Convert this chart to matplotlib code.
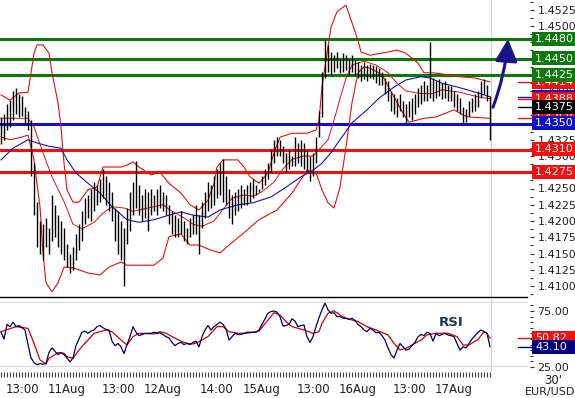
import numpy as np
import matplotlib
matplotlib.use('Agg')
import matplotlib.pyplot as plt
from matplotlib.patches import Rectangle
from matplotlib.transforms import blended_transform_factory
from matplotlib.ticker import MultipleLocator, FixedLocator, FormatStrFormatter

# ── DATA (30' bars, EUR/USD) ──────────────────────────────────────────────────
highs = [
    1.4360, 1.4365, 1.4380, 1.4386, 1.4400, 1.4405, 1.4396, 1.4392, 1.4375, 1.4370,
    1.4355, 1.4290, 1.4230, 1.4200, 1.4195, 1.4205, 1.4190, 1.4240, 1.4225, 1.4210,
    1.4200, 1.4190, 1.4165, 1.4150, 1.4160, 1.4180, 1.4195, 1.4215, 1.4235, 1.4240,
    1.4250, 1.4260, 1.4255, 1.4265, 1.4280, 1.4270, 1.4260, 1.4245, 1.4220, 1.4215,
    1.4200, 1.4190, 1.4220, 1.4245, 1.4260, 1.4292, 1.4255, 1.4240, 1.4250, 1.4245,
    1.4250, 1.4240, 1.4250, 1.4255, 1.4245, 1.4240, 1.4225, 1.4215, 1.4210, 1.4205,
    1.4215, 1.4200, 1.4190, 1.4205, 1.4210, 1.4225, 1.4210, 1.4230, 1.4245, 1.4260,
    1.4255, 1.4270, 1.4280, 1.4290, 1.4295, 1.4270, 1.4250, 1.4240, 1.4245, 1.4250,
    1.4255, 1.4250, 1.4255, 1.4260, 1.4265, 1.4255, 1.4250, 1.4270, 1.4280, 1.4290,
    1.4310, 1.4325, 1.4330, 1.4325, 1.4315, 1.4305, 1.4310, 1.4300, 1.4330, 1.4320,
    1.4325, 1.4320, 1.4310, 1.4300, 1.4305, 1.4330, 1.4370, 1.4430, 1.4478, 1.4470,
    1.4460, 1.4455, 1.4460, 1.4450, 1.4458, 1.4455, 1.4450, 1.4455, 1.4448, 1.4445,
    1.4440, 1.4445, 1.4440, 1.4442, 1.4440, 1.4438, 1.4435, 1.4430, 1.4420, 1.4415,
    1.4400, 1.4395, 1.4390, 1.4395, 1.4385, 1.4380, 1.4385, 1.4390, 1.4395, 1.4405,
    1.4410, 1.4415, 1.4410, 1.4475, 1.4420, 1.4415, 1.4418, 1.4412, 1.4415, 1.4410,
    1.4408, 1.4400, 1.4395, 1.4390, 1.4375, 1.4372, 1.4385, 1.4390, 1.4395, 1.4400,
    1.4415, 1.4418, 1.4410, 1.4392,
]
lows = [
    1.4318, 1.4325, 1.4340, 1.4345, 1.4355, 1.4365, 1.4360, 1.4362, 1.4350, 1.4340,
    1.4270, 1.4210, 1.4160, 1.4150, 1.4140, 1.4160, 1.4150, 1.4170, 1.4175, 1.4160,
    1.4150, 1.4140, 1.4130, 1.4120, 1.4125, 1.4140, 1.4155, 1.4170, 1.4195, 1.4205,
    1.4200, 1.4215, 1.4225, 1.4230, 1.4235, 1.4225, 1.4215, 1.4200, 1.4170, 1.4150,
    1.4140, 1.4100, 1.4165, 1.4185, 1.4210, 1.4220, 1.4210, 1.4200, 1.4205, 1.4185,
    1.4210, 1.4215, 1.4210, 1.4220, 1.4215, 1.4210, 1.4195, 1.4180, 1.4175, 1.4175,
    1.4180, 1.4170, 1.4165, 1.4175, 1.4180, 1.4180, 1.4150, 1.4190, 1.4205, 1.4215,
    1.4220, 1.4225, 1.4235, 1.4240, 1.4230, 1.4225, 1.4205, 1.4195, 1.4210, 1.4215,
    1.4220, 1.4225, 1.4225, 1.4230, 1.4235, 1.4240, 1.4245, 1.4250, 1.4255, 1.4265,
    1.4275, 1.4290, 1.4300, 1.4300, 1.4290, 1.4275, 1.4280, 1.4285, 1.4285, 1.4290,
    1.4285, 1.4280, 1.4275, 1.4262, 1.4270, 1.4290, 1.4330, 1.4360, 1.4420, 1.4430,
    1.4425, 1.4430, 1.4435, 1.4428, 1.4430, 1.4432, 1.4425, 1.4430, 1.4425, 1.4420,
    1.4415, 1.4418, 1.4415, 1.4420, 1.4418, 1.4412, 1.4410, 1.4410, 1.4395, 1.4385,
    1.4370, 1.4365, 1.4360, 1.4370, 1.4360, 1.4350, 1.4360, 1.4355, 1.4365, 1.4375,
    1.4380, 1.4385, 1.4385, 1.4390, 1.4385, 1.4390, 1.4392, 1.4388, 1.4390, 1.4385,
    1.4385, 1.4375, 1.4370, 1.4365, 1.4350, 1.4352, 1.4362, 1.4368, 1.4370, 1.4375,
    1.4390, 1.4395, 1.4385, 1.4325,
]
last_close = 1.4375

# Bollinger bands (20) and moving average, read at bar positions
bb_up_idx = [0, 3, 6, 9, 10, 11, 12, 14, 16, 17, 19, 20, 21, 22, 24, 26, 29, 32, 34, 36,
             40, 42, 44, 46, 50, 53, 56, 60, 63, 66, 69, 71, 72, 74, 79, 81, 83, 86, 89,
             91, 93, 97, 102, 105, 106, 107, 109, 110, 112, 115, 117, 119, 120, 123, 129,
             132, 135, 139, 141, 144, 149, 153, 158, 163]
bb_up = [1.4394, 1.4386, 1.4397, 1.4398, 1.4428, 1.4458, 1.4471, 1.4471, 1.4458, 1.4428,
         1.4382, 1.4345, 1.4289, 1.4248, 1.4229, 1.4229, 1.4248, 1.4252, 1.4283, 1.4283,
         1.4283, 1.4286, 1.4291, 1.4283, 1.4271, 1.4275, 1.4258, 1.4243, 1.4225, 1.4217,
         1.4232, 1.4258, 1.4283, 1.4294, 1.4294, 1.4283, 1.4268, 1.4258, 1.4274, 1.4305,
         1.4329, 1.4335, 1.4335, 1.4340, 1.4355, 1.4406, 1.4468, 1.4498, 1.4522, 1.4532,
         1.4505, 1.4478, 1.4460, 1.4455, 1.4460, 1.4463, 1.4458, 1.4443, 1.4428, 1.4428,
         1.4425, 1.4422, 1.4420, 1.4414]

bb_mid_idx = [0, 9, 11, 14, 17, 21, 24, 27, 31, 34, 37, 41, 44, 47, 51, 54, 57, 61, 64,
              67, 71, 74, 77, 81, 84, 87, 91, 94, 97, 101, 104, 106, 109, 111, 113, 115,
              117, 121, 125, 129, 132, 135, 140, 144, 147, 153, 159, 163]
bb_mid = [1.4358, 1.4358, 1.4345, 1.4305, 1.4268, 1.4230, 1.4195, 1.4188, 1.4198, 1.4212,
          1.4222, 1.4220, 1.4215, 1.4218, 1.4222, 1.4225, 1.4215, 1.4205, 1.4195, 1.4192,
          1.4200, 1.4218, 1.4235, 1.4240, 1.4238, 1.4245, 1.4260, 1.4280, 1.4295, 1.4300,
          1.4300, 1.4310, 1.4325, 1.4355, 1.4388, 1.4420, 1.4440, 1.4446, 1.4440, 1.4428,
          1.4412, 1.4400, 1.4396, 1.4396, 1.4402, 1.4398, 1.4391, 1.4388]

bb_low_idx = [0, 3, 6, 9, 11, 13, 14, 15, 17, 19, 21, 24, 29, 33, 36, 40, 42, 51, 54, 56,
              60, 63, 66, 70, 73, 76, 81, 86, 92, 97, 102, 105, 107, 109, 111, 113, 115,
              117, 119, 121, 123, 127, 131, 134, 136, 141, 145, 151, 154, 156, 163]
bb_low = [1.4329, 1.4325, 1.4328, 1.4332, 1.4294, 1.4222, 1.4151, 1.4105, 1.4091, 1.4105,
          1.4129, 1.4128, 1.4120, 1.4117, 1.4129, 1.4137, 1.4132, 1.4132, 1.4143, 1.4176,
          1.4180, 1.4163, 1.4163, 1.4155, 1.4151, 1.4163, 1.4182, 1.4202, 1.4217, 1.4243,
          1.4278, 1.4274, 1.4248, 1.4228, 1.4220, 1.4252, 1.4314, 1.4382, 1.4428, 1.4437,
          1.4435, 1.4425, 1.4391, 1.4366, 1.4352, 1.4358, 1.4360, 1.4371, 1.4363, 1.4360,
          1.4358]

ma_idx = [0, 4, 9, 12, 16, 20, 22, 25, 29, 33, 37, 42, 46, 51, 56, 60, 64, 69, 73, 79,
          84, 90, 95, 100, 104, 107, 110, 113, 117, 122, 126, 131, 135, 140, 143, 147,
          153, 159, 163]
ma = [1.4294, 1.4312, 1.4325, 1.4320, 1.4315, 1.4312, 1.4294, 1.4274, 1.4258, 1.4243,
      1.4222, 1.4202, 1.4198, 1.4202, 1.4209, 1.4214, 1.4209, 1.4206, 1.4217, 1.4225,
      1.4228, 1.4237, 1.4252, 1.4268, 1.4278, 1.4289, 1.4305, 1.4325, 1.4351, 1.4371,
      1.4389, 1.4406, 1.4417, 1.4422, 1.4420, 1.4412, 1.4405, 1.4397, 1.4391]

# RSI, one value per bar, and its signal line
rsi = [
    56, 50, 63, 61, 65, 61, 62, 60, 58, 45, 33, 29, 27, 28, 27.5, 28, 38, 42, 39, 36,
    38, 36, 33, 29.5, 33, 44, 50, 56, 57, 55, 57, 58, 61, 62, 60, 58.5, 58, 48, 44, 46,
    43, 37, 45, 52, 61, 56, 53, 54, 55, 55, 55, 56, 55, 55.5, 54, 52, 51, 47, 44, 46,
    47, 45, 46, 45, 47, 48, 43, 52, 58, 62, 58, 61, 63, 65, 63, 59, 49, 52, 55, 54,
    54, 55, 56, 56, 56, 56, 58, 63, 68, 73, 74.5, 75, 74, 70, 61.5, 62, 63, 68, 66, 61,
    62, 62.5, 52, 47, 52, 61, 69, 76, 82, 76, 73, 73.5, 70, 70, 68.5, 68.5, 67.5, 68.5,
    66.5, 63, 61, 58, 56.5, 59.5, 58, 55.5, 56, 53, 49, 42, 36, 33, 40, 46, 43, 40, 41,
    44, 47, 52, 54, 53, 56, 55, 48, 55, 53, 54, 55, 53.5, 53, 52, 46, 40, 43, 42, 46,
    50, 53, 56, 58, 56.5, 55, 43.1,
]
rsi_sig_idx = [0, 5, 9, 11, 13, 15, 16, 19, 21, 22, 24, 26, 29, 31, 33, 35, 37, 40, 42,
               44, 46, 51, 53, 55, 57, 60, 62, 64, 66, 69, 72, 74, 76, 79, 82, 86, 89, 91,
               93, 95, 97, 101, 104, 106, 107, 109, 111, 113, 115, 119, 122, 125, 129,
               131, 133, 135, 137, 140, 142, 145, 149, 152, 154, 156, 159, 161, 162, 163]
rsi_sig = [56.5, 61, 59.5, 46.1, 31.3, 27.7, 32.7, 37.8, 37.2, 34.2, 32.7, 40.2, 49.1,
           55.1, 56.5, 58.0, 56.5, 49.1, 44.6, 52.1, 55.1, 54.5, 56.5, 55.1, 52.1, 48.0,
           46.1, 45.5, 47.6, 52.1, 61.0, 61.0, 56.5, 55.1, 55.1, 57.0, 67.0, 73.5, 71.4,
           65.5, 61.0, 58.0, 55.1, 56.5, 64.0, 72.9, 75.3, 71.4, 68.5, 65.5, 61.0, 58.0,
           53.6, 46.1, 40.2, 41.7, 44.6, 49.1, 53.6, 55.1, 55.1, 52.1, 44.6, 44.6, 49.6,
           56.5, 55.1, 50.82]

resistencias = [1.4480, 1.4450, 1.4425]
soporte_azul = [1.4350]
soportes_rojos = [1.4310, 1.4275]

etiquetas_tiempo = ['13:00', '11Aug', '13:00', '12Aug', '14:00', '15Aug',
                    '13:00', '16Aug', '13:00', '17Aug']
pos_tiempo = [7, 22, 39, 54, 72, 87, 104, 119, 136, 151]

# ── ESTILO ────────────────────────────────────────────────────────────────────
W, H = 575, 398
VERDE, ROJO, AZUL = '#0b7a0b', '#f01010', '#1010c8'
C_BB, C_MA = '#e01010', '#1414b4'
FS = 8

fig = plt.figure(figsize=(W / 100, H / 100), dpi=100)
fig.patch.set_facecolor('white')

def caja(px_l, px_t, px_r, px_b):
    return [px_l / W, 1 - px_b / H, (px_r - px_l) / W, (px_b - px_t) / H]

ax = fig.add_axes(caja(0, 0, 520, 297))
ax2 = fig.add_axes(caja(0, 300, 520, 372))
n = len(highs)
idx = np.arange(n)

# ── PANEL PRECIO ──────────────────────────────────────────────────────────────
ax.set_xlim(-1 / 3, 173)
ax.set_ylim(1.4540 - 297 / 6500, 1.4540)
for s in ['left', 'top']:
    ax.spines[s].set_visible(False)
ax.spines['right'].set_position(('outward', 7))
ax.spines['right'].set_visible(False)
ax.spines['bottom'].set_visible(False)
ax.set_xticks([])
ax.yaxis.tick_right()
ax.yaxis.set_major_locator(MultipleLocator(0.0025))
ax.yaxis.set_minor_locator(MultipleLocator(0.00125))
ax.yaxis.set_major_formatter(FormatStrFormatter('%.4f'))
ax.tick_params(axis='y', which='major', length=3, width=0.8, color='#333333',
               pad=2.5, labelsize=FS, labelcolor='#222222')
ax.tick_params(axis='y', which='minor', length=2, width=0.8, color='#333333')

# separador negro entre paneles
ax.plot([0, 527 / 520], [0, 0], color='black', lw=1.0, transform=ax.transAxes,
        clip_on=False, zorder=5)
ax.axvline(n - 1 + 0.3, color='#cdd3dd', lw=0.8, zorder=1)

tr = blended_transform_factory(ax.transAxes, ax.transData)
for lv in resistencias:
    ax.plot([0, 532 / 520], [lv, lv], color=VERDE, lw=2.2, transform=tr, clip_on=False, zorder=2)
for lv in soporte_azul:
    ax.plot([0, 532 / 520], [lv, lv], color=AZUL, lw=2.2, transform=tr, clip_on=False, zorder=2)
for lv in soportes_rojos:
    ax.plot([0, 532 / 520], [lv, lv], color=ROJO, lw=2.2, transform=tr, clip_on=False, zorder=2)

ax.plot(bb_up_idx, bb_up, color=C_BB, lw=0.8, zorder=2.5)
ax.plot(bb_low_idx, bb_low, color=C_BB, lw=0.8, zorder=2.5)
ax.plot(bb_mid_idx, bb_mid, color=C_BB, lw=0.7, zorder=2.5)
ax.plot(ma_idx, ma, color=C_MA, lw=0.8, zorder=2.6)
ax.vlines(idx, lows, highs, color='black', lw=1.0, zorder=3)

ax.annotate('', xy=(n + 5, resistencias[0]), xytext=(n, last_close),
            arrowprops=dict(arrowstyle='-|>,head_length=0.8,head_width=0.4',
                            color='#16168a', lw=2.2, mutation_scale=17,
                            connectionstyle='arc3,rad=0.07', shrinkA=0, shrinkB=0),
            zorder=4, annotation_clip=False)

def etiqueta(eje, valor, texto, color, px_por_unidad, zo, marca=True):
    t = blended_transform_factory(eje.transAxes, eje.transData)
    h = 14 / px_por_unidad
    if marca:
        eje.plot([518 / 520, 532 / 520], [valor, valor], color=color, lw=1.0,
                 transform=t, clip_on=False, zorder=zo)
    eje.add_patch(Rectangle((532 / 520, valor - h / 2), 50 / 520, h, transform=t,
                            facecolor=color, edgecolor='none', clip_on=False, zorder=zo))
    eje.text(535 / 520, valor, texto, transform=t, color='white', fontsize=FS,
             ha='left', va='center', clip_on=False, zorder=zo + 0.5)

PPU = 6500
etiqueta(ax, bb_low[-1], f'{bb_low[-1]:.4f}', ROJO, PPU, 5)
etiqueta(ax, ma[-1], f'{ma[-1]:.4f}', AZUL, PPU, 6)
etiqueta(ax, bb_mid[-1], f'{bb_mid[-1]:.4f}', ROJO, PPU, 7)
etiqueta(ax, bb_up[-1], f'{bb_up[-1]:.4f}', ROJO, PPU, 8)
etiqueta(ax, last_close, f'{last_close:.4f}', 'black', PPU, 9)
for lv in soportes_rojos:
    etiqueta(ax, lv, f'{lv:.4f}', ROJO, PPU, 10, marca=False)
for lv in soporte_azul:
    etiqueta(ax, lv, f'{lv:.4f}', AZUL, PPU, 10, marca=False)
for k, lv in enumerate(resistencias[::-1]):
    etiqueta(ax, lv, f'{lv:.4f}', VERDE, PPU, 11 + k, marca=False)

# ── PANEL RSI ─────────────────────────────────────────────────────────────────
ax2.set_xlim(-1 / 3, 173)
ax2.set_ylim(20.5, 84.8)
for s in ['left', 'top', 'bottom']:
    ax2.spines[s].set_visible(False)
ax2.spines['right'].set_position(('outward', 7))
ax2.spines['right'].set_visible(False)
ax2.yaxis.tick_right()
ax2.yaxis.set_major_locator(FixedLocator([25, 75]))
ax2.yaxis.set_minor_locator(MultipleLocator(5))
ax2.yaxis.set_major_formatter(FormatStrFormatter('%.2f'))
ax2.tick_params(axis='y', which='major', length=3, width=0.8, color='#333333',
                pad=2.5, labelsize=FS, labelcolor='#222222')
ax2.tick_params(axis='y', which='minor', length=2, width=0.8, color='#333333')

ax2.xaxis.set_major_locator(FixedLocator(pos_tiempo))
ax2.xaxis.set_minor_locator(FixedLocator(idx))
ax2.set_xticklabels(etiquetas_tiempo)
ax2.tick_params(axis='x', which='both', length=3.6, width=0.8, color='#444444')
ax2.tick_params(axis='x', which='major', pad=4.5, labelsize=FS + 0.5, labelcolor='#222222')

tr2 = blended_transform_factory(ax2.transAxes, ax2.transData)
for ref in (83, 25.9):
    ax2.plot([0, 527 / 520], [ref, ref], color='#d4d8e0', lw=0.8, transform=tr2,
             clip_on=False, zorder=1)
ax2.axvline(n - 1 + 0.3, color='#cdd3dd', lw=0.8, zorder=1)

ax2.plot(rsi_sig_idx, rsi_sig, color='#d00000', lw=0.9, zorder=3)
ax2.plot(idx, rsi, color='#00005a', lw=0.9, zorder=3)

PPU_RSI = 72 / (84.8 - 20.5)
etiqueta(ax2, rsi_sig[-1], f'{rsi_sig[-1]:.2f}', ROJO, PPU_RSI, 5)
etiqueta(ax2, rsi[-1], f'{rsi[-1]:.2f}', '#000080', PPU_RSI, 6)

fig.text(451 / W, 1 - 322 / H, 'RSI', color='#1c3550', fontsize=9.5,
         fontweight='bold', ha='center', va='center')
fig.text(553 / W, 1 - 380 / H, "30'", color='#222222', fontsize=FS + 0.5,
         ha='center', va='center')
fig.text(525 / W, 1 - 392 / H, 'EUR/USD', color='#222222', fontsize=FS,
         ha='left', va='center')

fig.savefig('out.png', dpi=100, facecolor='white')
